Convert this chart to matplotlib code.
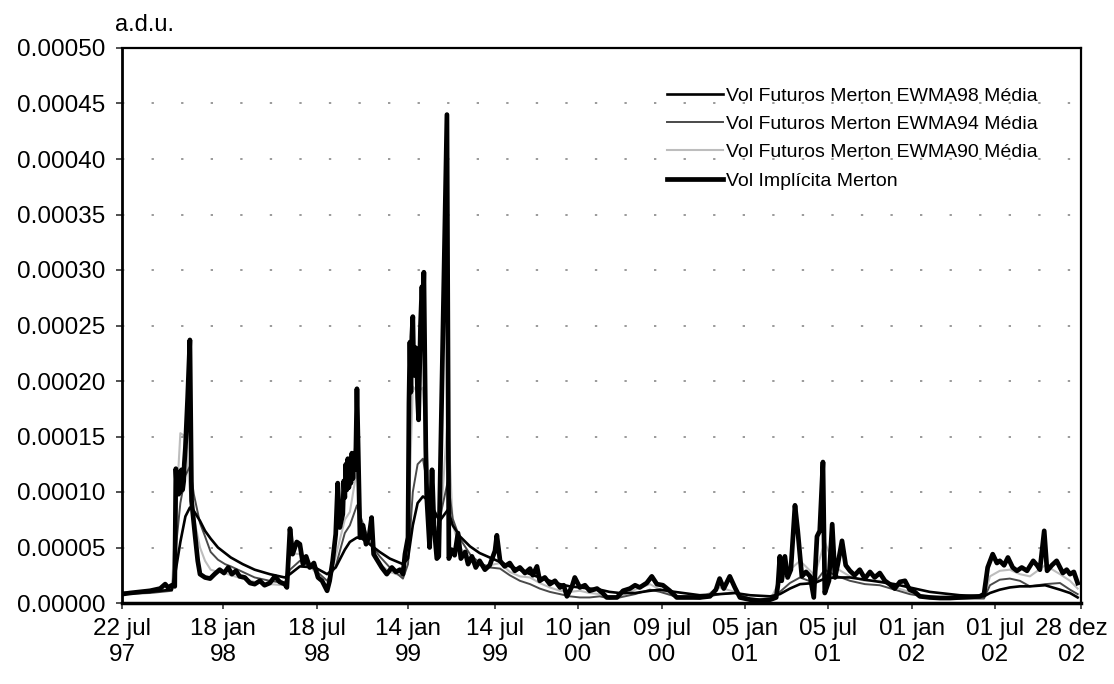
import numpy as np
import pandas as pd
import matplotlib
matplotlib.use("Agg")
import matplotlib.pyplot as plt
import matplotlib.dates as mdates
import matplotlib.transforms as mtransforms

plt.rcParams['font.family'] = ['Liberation Sans', 'DejaVu Sans']

# implied vol (Merton), values in units of 1e-5 a.d.u.
iv_dates = [
    '1997-07-22', '1997-08-05', '1997-08-23', '1997-09-10', '1997-09-28', '1997-10-07', '1997-10-12',
    '1997-10-19', '1997-10-24', '1997-10-26', '1997-10-28', '1997-10-29', '1997-10-31', '1997-11-02',
    '1997-11-03', '1997-11-05', '1997-11-07', '1997-11-09', '1997-11-10', '1997-11-12', '1997-11-16',
    '1997-11-20', '1997-11-23', '1997-11-29', '1997-12-04', '1997-12-08', '1997-12-17', '1997-12-26',
    '1998-01-03', '1998-01-12', '1998-01-20', '1998-01-28', '1998-02-04', '1998-02-12', '1998-02-19',
    '1998-03-01', '1998-03-11', '1998-03-20', '1998-03-30', '1998-04-08', '1998-04-18', '1998-04-28',
    '1998-05-07', '1998-05-17', '1998-05-21', '1998-05-27', '1998-06-01', '1998-06-09', '1998-06-15',
    '1998-06-21', '1998-06-27', '1998-07-04', '1998-07-12', '1998-07-20', '1998-07-28', '1998-08-07',
    '1998-08-12', '1998-08-18', '1998-08-24', '1998-08-28', '1998-09-01', '1998-09-07', '1998-09-09',
    '1998-09-11', '1998-09-13', '1998-09-15', '1998-09-17', '1998-09-19', '1998-09-21', '1998-09-23',
    '1998-09-25', '1998-09-27', '1998-09-29', '1998-10-01', '1998-10-03', '1998-10-05', '1998-10-11',
    '1998-10-17', '1998-10-23', '1998-10-29', '1998-11-03', '1998-11-07', '1998-11-15', '1998-11-23',
    '1998-12-03', '1998-12-13', '1998-12-21', '1998-12-29', '1999-01-04', '1999-01-08', '1999-01-14',
    '1999-01-16', '1999-01-18', '1999-01-20', '1999-01-22', '1999-01-24', '1999-01-26', '1999-01-28',
    '1999-01-30', '1999-02-01', '1999-02-03', '1999-02-05', '1999-02-07', '1999-02-09', '1999-02-12',
    '1999-02-14', '1999-02-16', '1999-02-18', '1999-02-20', '1999-02-22', '1999-02-28', '1999-03-05',
    '1999-03-09', '1999-03-15', '1999-03-19', '1999-04-05', '1999-04-09', '1999-04-15', '1999-04-21',
    '1999-04-28', '1999-05-04', '1999-05-13', '1999-05-19', '1999-05-27', '1999-06-04', '1999-06-12',
    '1999-06-23', '1999-07-03', '1999-07-14', '1999-07-18', '1999-07-25', '1999-08-04', '1999-08-15',
    '1999-08-26', '1999-09-06', '1999-09-17', '1999-09-28', '1999-10-04', '1999-10-13', '1999-10-19',
    '1999-10-30', '1999-11-10', '1999-11-21', '1999-12-02', '1999-12-10', '1999-12-17', '1999-12-28',
    '2000-01-03', '2000-01-14', '2000-01-25', '2000-02-04', '2000-02-20', '2000-03-03', '2000-03-12',
    '2000-04-03', '2000-04-16', '2000-05-01', '2000-05-12', '2000-05-22', '2000-06-06', '2000-06-17',
    '2000-06-28', '2000-07-11', '2000-07-26', '2000-08-10', '2000-09-07', '2000-09-29', '2000-10-21',
    '2000-11-03', '2000-11-11', '2000-11-20', '2000-12-03', '2000-12-14', '2000-12-25', '2001-01-16',
    '2001-02-06', '2001-03-01', '2001-03-14', '2001-03-18', '2001-03-22', '2001-03-26', '2001-04-02',
    '2001-04-08', '2001-04-15', '2001-04-24', '2001-04-30', '2001-05-09', '2001-05-18', '2001-05-27',
    '2001-06-04', '2001-06-11', '2001-06-17', '2001-06-24', '2001-06-28', '2001-07-07', '2001-07-14',
    '2001-07-20', '2001-07-26', '2001-08-04', '2001-08-12', '2001-08-21', '2001-08-31', '2001-09-11',
    '2001-09-22', '2001-10-03', '2001-10-13', '2001-10-24', '2001-11-04', '2001-11-14', '2001-11-25',
    '2001-12-06', '2001-12-17', '2001-12-27', '2002-01-07', '2002-01-18', '2002-02-09', '2002-03-03',
    '2002-03-25', '2002-04-15', '2002-05-07', '2002-05-29', '2002-06-07', '2002-06-15', '2002-06-26',
    '2002-07-05', '2002-07-11', '2002-07-20', '2002-07-28', '2002-08-07', '2002-08-16', '2002-08-26',
    '2002-09-06', '2002-09-19', '2002-09-27', '2002-10-03', '2002-10-12', '2002-10-18', '2002-10-28',
    '2002-11-07', '2002-11-20', '2002-11-28', '2002-12-05', '2002-12-13', '2002-12-21',
]
iv_vals = [
    0.8, 0.9, 1.0, 1.1, 1.3, 1.7, 1.4,
    1.6, 1.5, 12.1, 10.0, 11.5, 9.8, 11.8,
    10.0, 12.0, 10.2, 11.0, 12.5, 14.0, 18.5,
    23.7, 9.2, 6.2, 3.8, 2.6, 2.3, 2.2,
    2.6, 3.0, 2.7, 3.2, 2.6, 2.9, 2.4,
    2.3, 1.8, 1.7, 2.0, 1.6, 1.8, 2.4,
    1.9, 1.7, 1.4, 6.7, 4.4, 5.5, 5.3,
    3.5, 4.2, 3.2, 3.6, 2.3, 2.0, 1.1,
    2.0, 3.8, 6.2, 10.8, 6.8, 8.0, 11.0,
    9.5, 12.5, 10.2, 13.0, 10.4, 12.8, 10.8,
    13.5, 11.2, 13.0, 12.0, 14.0, 19.3, 5.9,
    7.0, 5.3, 6.0, 7.7, 4.4, 3.8, 3.2,
    2.6, 3.2, 2.8, 3.0, 2.6, 4.4, 5.9,
    18.0, 23.5, 19.0, 24.0, 25.8, 21.0, 20.5,
    23.0, 22.5, 18.5, 16.5, 21.0, 25.0, 28.5,
    26.0, 29.8, 22.0, 14.0, 9.5, 5.0, 12.0,
    7.0, 4.0, 4.2, 44.0, 4.0, 4.8, 4.3,
    6.3, 4.0, 4.6, 3.5, 4.2, 3.2, 3.8,
    3.0, 3.4, 4.7, 6.1, 3.8, 3.3, 3.6,
    2.9, 3.2, 2.7, 3.1, 2.5, 3.3, 2.0,
    2.3, 1.7, 2.0, 1.4, 1.6, 0.6, 1.5,
    2.3, 1.4, 1.6, 1.1, 1.3, 0.9, 0.5,
    0.5, 1.1, 1.3, 1.6, 1.4, 1.8, 2.4,
    1.7, 1.6, 1.1, 0.5, 0.5, 0.5, 0.6,
    1.2, 2.2, 1.3, 2.4, 1.4, 0.5, 0.3,
    0.2, 0.3, 0.5, 1.7, 4.2, 2.0, 4.2,
    2.3, 3.0, 8.8, 6.5, 2.4, 2.8, 2.4,
    0.5, 6.0, 6.5, 12.7, 0.9, 2.0, 7.1,
    2.3, 3.5, 5.6, 3.4, 2.9, 2.5, 3.0,
    2.2, 2.8, 2.3, 2.7, 2.0, 1.7, 1.3,
    1.9, 2.0, 1.2, 1.0, 0.6, 0.5, 0.45,
    0.45, 0.5, 0.55, 0.6, 0.8, 3.2, 4.4,
    3.6, 3.8, 3.4, 4.1, 3.2, 2.9, 3.2,
    2.9, 3.8, 3.4, 3.0, 6.5, 2.9, 3.4,
    3.8, 2.7, 3.0, 2.6, 2.8, 1.8,
]

# futures EWMA vols, same sampling dates for the three series (1e-5 a.d.u.)
ewma_dates = [
    '1997-07-22', '1997-09-10', '1997-10-19', '1997-10-26', '1997-11-03', '1997-11-12', '1997-11-20',
    '1997-11-27', '1997-12-08', '1997-12-17', '1997-12-27', '1998-01-09', '1998-01-22', '1998-02-02',
    '1998-02-25', '1998-03-20', '1998-04-18', '1998-05-17', '1998-05-27', '1998-06-15', '1998-07-14',
    '1998-08-07', '1998-08-24', '1998-09-11', '1998-09-21', '1998-10-05', '1998-10-15', '1998-10-30',
    '1998-11-19', '1998-12-09', '1999-01-04', '1999-01-14', '1999-01-24', '1999-02-03', '1999-02-14',
    '1999-02-24', '1999-03-11', '1999-03-21', '1999-04-07', '1999-04-17', '1999-05-02', '1999-05-23',
    '1999-06-12', '1999-07-03', '1999-07-25', '1999-08-15', '1999-09-06', '1999-09-28', '1999-10-19',
    '1999-11-10', '1999-12-02', '1999-12-23', '2000-01-14', '2000-02-04', '2000-02-26', '2000-03-18',
    '2000-04-09', '2000-05-12', '2000-06-13', '2000-07-05', '2000-08-06', '2000-09-29', '2000-11-11',
    '2000-12-14', '2001-01-16', '2001-03-01', '2001-03-22', '2001-04-13', '2001-05-05', '2001-06-06',
    '2001-06-28', '2001-07-20', '2001-08-21', '2001-09-22', '2001-10-24', '2001-11-25', '2001-12-27',
    '2002-02-09', '2002-04-15', '2002-06-07', '2002-06-20', '2002-07-11', '2002-08-01', '2002-08-22',
    '2002-09-12', '2002-10-14', '2002-11-14', '2002-12-05', '2002-12-21',
]
ewma98 = [
    0.9, 1.0, 1.2, 3.0, 5.5, 7.8, 8.6,
    8.3, 7.4, 6.5, 5.8, 5.0, 4.5, 4.1,
    3.5, 3.0, 2.6, 2.3, 2.6, 3.3, 3.2,
    2.6, 3.2, 4.8, 5.5, 5.9, 5.8, 5.3,
    4.6, 4.0, 3.5, 4.0, 7.0, 9.0, 9.6,
    9.3, 8.2, 7.4, 8.4, 7.0, 6.0, 5.1,
    4.5, 4.1, 3.7, 3.3, 3.0, 2.6, 2.3,
    2.0, 1.7, 1.5, 1.4, 1.3, 1.2, 1.0,
    0.9, 0.9, 1.1, 1.2, 1.0, 0.7, 0.8,
    0.9, 0.7, 0.6, 0.8, 1.3, 1.7, 1.8,
    2.2, 2.3, 2.3, 2.1, 1.9, 1.7, 1.4,
    1.0, 0.7, 0.6, 0.9, 1.2, 1.4, 1.5,
    1.5, 1.6, 1.2, 0.9, 0.5,
]
ewma94 = [
    0.8, 0.9, 1.1, 5.0, 9.0, 11.5, 12.3,
    9.8, 7.2, 6.0, 4.6, 3.9, 3.5, 3.3,
    2.8, 2.3, 2.0, 1.8, 3.0, 3.8, 3.0,
    2.0, 3.3, 6.3, 7.0, 8.8, 7.4, 5.4,
    4.2, 3.2, 2.2, 3.5, 10.0, 12.5, 13.0,
    10.5, 7.8, 7.6, 11.0, 7.6, 5.8, 4.4,
    3.6, 3.2, 3.1, 2.5, 2.0, 1.7, 1.3,
    1.0, 0.8, 0.6, 0.5, 0.5, 0.6, 0.4,
    0.5, 0.8, 1.2, 1.0, 0.6, 0.4, 0.8,
    0.9, 0.4, 0.3, 1.0, 1.8, 2.3, 1.8,
    3.0, 2.5, 2.0, 1.7, 1.6, 1.2, 0.8,
    0.5, 0.4, 0.4, 1.6, 2.1, 2.2, 2.0,
    1.5, 1.7, 1.8, 1.2, 0.8,
]
ewma90 = [
    0.8, 1.0, 1.3, 8.0, 15.3, 15.0, 10.0,
    7.7, 5.0, 3.8, 3.0, 2.8, 2.7, 2.5,
    2.2, 1.9, 1.7, 1.6, 4.5, 4.4, 2.8,
    1.5, 4.2, 7.5, 8.2, 12.0, 6.5, 5.5,
    3.5, 2.8, 2.4, 5.5, 19.5, 19.0, 19.4,
    12.0, 7.0, 6.0, 17.0, 7.0, 5.0, 4.0,
    3.4, 3.4, 3.6, 2.8, 2.4, 2.3, 1.8,
    1.4, 1.1, 1.0, 1.1, 0.9, 0.8, 0.5,
    0.6, 1.2, 1.7, 1.2, 0.6, 0.4, 1.4,
    1.0, 0.3, 0.3, 2.0, 3.0, 3.8, 2.5,
    5.5, 3.2, 2.4, 2.0, 2.0, 1.4, 1.0,
    0.5, 0.4, 0.5, 2.4, 2.9, 3.0, 2.6,
    2.4, 3.4, 2.6, 2.0, 1.3,
]

tick_dates = ['1997-07-22', '1998-01-18', '1998-07-18', '1999-01-14', '1999-07-14', '2000-01-10',
              '2000-07-09', '2001-01-05', '2001-07-05', '2002-01-01', '2002-07-01', '2002-12-28']
tick_labels = ['22 jul\n97', '18 jan\n98', '18 jul\n98', '14 jan\n99', '14 jul\n99', '10 jan\n00',
               '09 jul\n00', '05 jan\n01', '05 jul\n01', '01 jan\n02', '01 jul\n02', '28 dez\n02']
# where each tick sits on the (slightly warped) scanned axis, in pixels
tick_px = [122, 223, 317, 408, 495, 578, 662, 745, 828, 912, 995, 1081]

tn = mdates.date2num(pd.to_datetime(tick_dates))
tf = (np.array(tick_px, dtype=float) - tick_px[0]) / (tick_px[-1] - tick_px[0])


def warp(x, xp, fp):
    x = np.asarray(x, dtype=float)
    y = np.interp(x, xp, fp)
    y = np.where(x < xp[0], fp[0] + (x - xp[0]) * (fp[1] - fp[0]) / (xp[1] - xp[0]), y)
    y = np.where(x > xp[-1], fp[-1] + (x - xp[-1]) * (fp[-1] - fp[-2]) / (xp[-1] - xp[-2]), y)
    return y


W, H = 1114, 684
fig = plt.figure(figsize=(W / 100, H / 100), dpi=100)
ax = fig.add_axes([122 / W, 1 - 603 / H, (1081 - 122) / W, (603 - 48) / H])
ax.set_xscale('function', functions=(lambda x: warp(x, tn, tf), lambda y: warp(y, tf, tn)))

x_iv = mdates.date2num(pd.to_datetime(iv_dates))
x_ew = mdates.date2num(pd.to_datetime(ewma_dates))
sc = 1e-5

l90, = ax.plot(x_ew, np.array(ewma90) * sc, color='#bdbdbd', lw=1.5, zorder=3)
l94, = ax.plot(x_ew, np.array(ewma94) * sc, color='#4a4a4a', lw=1.4, zorder=4)
l98, = ax.plot(x_ew, np.array(ewma98) * sc, color='black', lw=1.9, zorder=5)
l_iv, = ax.plot(x_iv, np.array(iv_vals) * sc, color='black', lw=3.4, zorder=6)

ax.set_xlim(tn[0], tn[-1])
ax.set_ylim(0, 0.0005)
ax.set_xticks(tn)
ax.set_xticklabels(tick_labels)
yt = np.arange(0, 0.00051, 0.00005)
ax.set_yticks(yt)
ax.set_yticklabels(['%.5f' % v for v in yt])
ax.tick_params(axis='both', labelsize=17.5, direction='out', length=4, width=1.2, color='#333333')
ax.tick_params(axis='x', pad=7)
ax.tick_params(axis='y', pad=8)

# last date label sits a little inside the right edge, as in the original
last = ax.get_xticklabels()[-1]
last.set_transform(last.get_transform() + mtransforms.ScaledTranslation(-7 / 72, 0, fig.dpi_scale_trans))

for y in yt[1:-1]:
    ax.axhline(y, color='#9a9a9a', lw=1.4, ls=(0, (1.2, 14)), zorder=1)

ax.spines['left'].set_linewidth(2.0)
ax.spines['bottom'].set_linewidth(2.5)
ax.spines['top'].set_linewidth(1.6)
ax.spines['right'].set_linewidth(1.6)

fig.text(115 / W, 1 - 25 / H, 'a.d.u.', fontsize=17, ha='left', va='center')

ax.legend([l98, l94, l90, l_iv],
          ['Vol Futuros Merton EWMA98 Média', 'Vol Futuros Merton EWMA94 Média',
           'Vol Futuros Merton EWMA90 Média', 'Vol Implícita Merton'],
          loc='upper left', bbox_to_anchor=(667 / W, 1 - 87 / H), bbox_transform=fig.transFigure,
          frameon=False, fontsize=14, handlelength=2.9, handletextpad=0.15,
          borderpad=0, borderaxespad=0, labelspacing=0.55)

fig.savefig('out.png', dpi=100)
